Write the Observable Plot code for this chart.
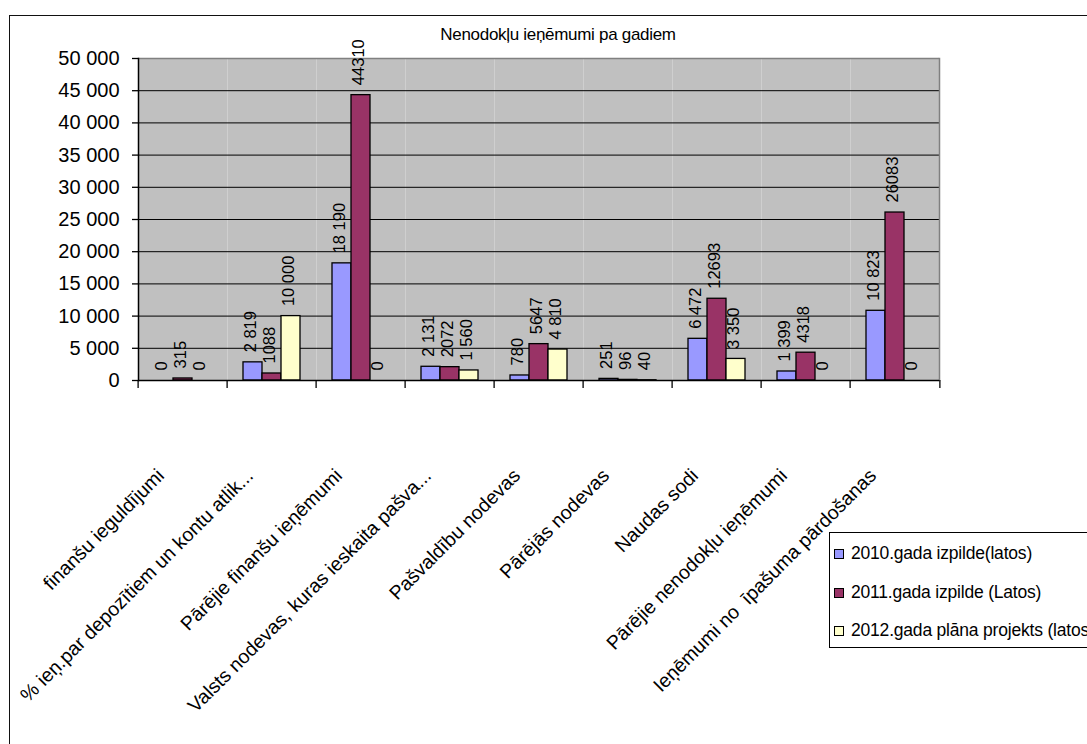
<!DOCTYPE html>
<html>
<head>
<meta charset="utf-8">
<script src="https://cdn.jsdelivr.net/npm/d3@7"></script>
<script src="https://cdn.jsdelivr.net/npm/@observablehq/plot@0.6"></script>
<style>
  html, body { margin: 0; padding: 0; background: #fff; overflow: hidden; width: 1087px; height: 744px; }
  #wrap { position: relative; width: 1087px; height: 744px; }
  #chart { position: absolute; left: 0; top: 0; }
  .nf { font-family: "Liberation Sans", Arial, sans-serif; color: #000; }
  #outer { position: absolute; left: 9px; top: 15px; width: 1200px; height: 800px; border-left: 1.5px solid #111; border-top: 1.5px solid #111; pointer-events: none; }
  #title { position: absolute; top: 26px; left: 558px; transform: translateX(-50%); font-size: 17px; white-space: nowrap; line-height: 1; letter-spacing: -0.3px; }
  #legend { position: absolute; left: 829px; top: 532px; width: 300px; height: 114px; border: 1px solid #000; background: #fff; }
  .lg-row { position: absolute; left: 4px; display: flex; align-items: center; font-size: 17.5px; white-space: nowrap; line-height: 1; letter-spacing: -0.2px; }
  .lg-sw { width: 8px; height: 8px; border: 1.3px solid #000; margin-right: 7px; }
</style>
</head>
<body>
<div id="wrap">
  <div id="chart"></div>
  <div id="outer"></div>
  <div id="title" class="nf"></div>
  <div id="legend" class="nf"></div>
</div>
<script>
const titleText = "Nenodokļu ieņēmumi pa gadiem";
const categories = [
  "finanšu ieguldījumi",
  "% ieņ.par depozītiem un kontu atlik...",
  "Pārējie finanšu ieņēmumi",
  "Valsts nodevas, kuras ieskaita pašva...",
  "Pašvaldību nodevas",
  "Pārējās nodevas",
  "Naudas sodi",
  "Pārējie nenodokļu ieņēmumi",
  "Ieņēmumi no  īpašuma pārdošanas"
];
const seriesNames = ["2010.gada izpilde(latos)", "2011.gada izpilde (Latos)", "2012.gada plāna projekts (latos)"];
const values2010 = [0, 2819, 18190, 2131, 780, 251, 6472, 1399, 10823];
const values2011 = [315, 1088, 44310, 2072, 5647, 96, 12693, 4318, 26083];
const values2012 = [0, 10000, 0, 1560, 4810, 40, 3350, 0, 0];
const seriesColors = ["#9999FF", "#993366", "#FFFFCC"];
const yTicks = [0, 5000, 10000, 15000, 20000, 25000, 30000, 35000, 40000, 45000, 50000];

const FONT = '"Liberation Sans", Arial, sans-serif';
const fmtSpace = v => d3.format(",")(v).replace(/,/g, " ");
const seriesValues = [values2010, values2011, values2012];

const rows = [];
categories.forEach((c, i) => {
  seriesNames.forEach((s, j) => {
    const v = seriesValues[j][i];
    rows.push({category: c, series: s, value: v, label: j === 1 ? String(v) : fmtSpace(v)});
  });
});

const W = 1087, H = 744, ML = 134, MR = 145, MT = 58, MB = 364;
const bw = (W - ML - MR) / categories.length;

const chart = Plot.plot({
  width: W, height: H,
  marginLeft: ML, marginRight: MR, marginTop: MT, marginBottom: MB,
  style: {fontFamily: FONT, background: "transparent", color: "#000"},
  fx: {domain: categories, padding: 0, label: null},
  x: {domain: seriesNames, paddingInner: 0, paddingOuter: 0.74, axis: null},
  y: {domain: [0, 50000], label: null},
  color: {domain: seriesNames, range: seriesColors},
  marks: [
    Plot.frame({fill: "#C0C0C0", stroke: null}),
    Plot.ruleY(yTicks.filter(t => t > 0 && t < 50000), {stroke: "#000", strokeWidth: 1}),
    Plot.ruleY([50000], {stroke: "#808080", strokeWidth: 1.5}),
    Plot.frame({anchor: "right", stroke: "#808080", strokeWidth: 1.5, facetAnchor: "right"}),
    Plot.barY(rows, {fx: "category", x: "series", y: "value", fill: "series", stroke: "#000", strokeWidth: 1.3}),
    Plot.text(rows, {fx: "category", x: "series", y: "value", text: "label", rotate: -90, textAnchor: "start", lineAnchor: "middle", dy: -10, dx: -2, fontSize: 16.5, fill: "#000"}),
    Plot.ruleY([0], {stroke: "#000", strokeWidth: 1.5}),
    Plot.frame({anchor: "left", stroke: "#000", strokeWidth: 1.5, facetAnchor: "left"}),
    Plot.axisY({ticks: yTicks, tickFormat: fmtSpace, tickSize: 6, tickPadding: 13, fontSize: 20, label: null, strokeWidth: 1.3}),
    Plot.axisFx({anchor: "bottom", tickSize: 0, tickPadding: 0, tickRotate: -45, textAnchor: "end", lineAnchor: "middle", dx: -22, dy: 92, fontSize: 19.5, label: null}),
    Plot.axisFx({anchor: "bottom", tickSize: 8, tickFormat: () => "", dx: -bw / 2, label: null, strokeWidth: 1.3}),
    Plot.axisFx({anchor: "bottom", ticks: [categories[categories.length - 1]], tickSize: 8, tickFormat: () => "", dx: bw / 2, label: null, strokeWidth: 1.3})
  ]
});
document.getElementById("chart").appendChild(chart);

document.getElementById("title").textContent = titleText;
const legend = document.getElementById("legend");
const rowTops = [12, 51, 89];
seriesNames.forEach((s, j) => {
  const r = document.createElement("div");
  r.className = "lg-row";
  r.style.top = rowTops[j] + "px";
  const sw = document.createElement("div");
  sw.className = "lg-sw";
  sw.style.background = seriesColors[j];
  const t = document.createElement("span");
  t.textContent = s;
  r.appendChild(sw);
  r.appendChild(t);
  legend.appendChild(r);
});
</script>
</body>
</html>
